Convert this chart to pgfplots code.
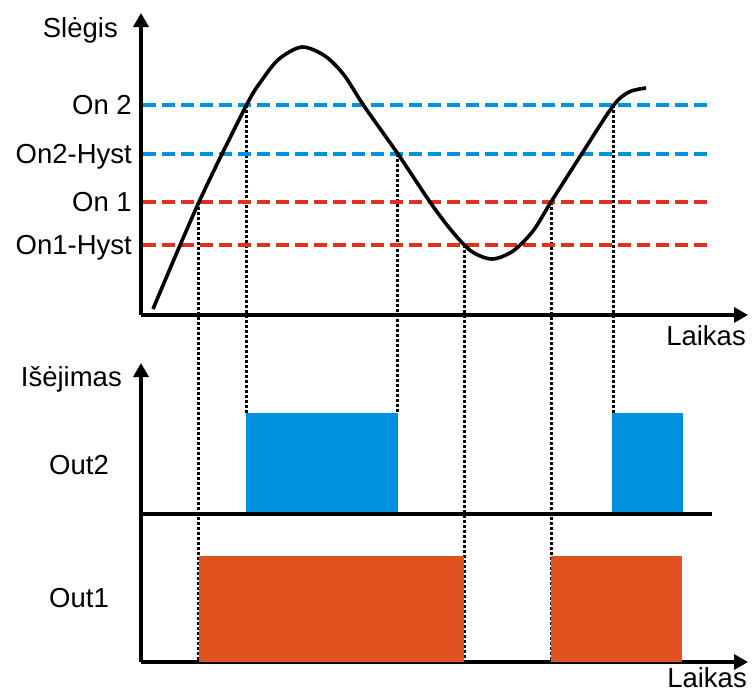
\documentclass[border=0pt]{standalone}
\usepackage{fontspec}
\setmainfont{Liberation Sans}
\usepackage{pgfplots}
\pgfplotsset{compat=1.18}
\usetikzlibrary{arrows.meta}

\definecolor{lineblue}{RGB}{0,146,222}
\definecolor{linered}{RGB}{226,48,32}
\definecolor{barblue}{RGB}{0,144,224}
\definecolor{barorange}{RGB}{224,82,32}

\pgfplotsset{
  diagram/.style={
    scale only axis,
    axis lines*=left,
    axis line style={line width=3.4pt, -{Triangle[length=14pt,width=15pt]}},
    xmin=0, xmax=607,
    ymin=0,
    xtick=\empty,
    major tick length=0pt,
    clip=false,
    yticklabel style={inner sep=0pt, anchor=base east, yshift=-0.36em},
  },
}
\tikzset{
  switch/.style={black, line width=3pt, dash pattern=on 3pt off 2pt},
  level/.style={line width=3.4pt, dash pattern=on 13pt off 6pt},
  lbl/.style={anchor=base east, inner sep=0pt},
}

\begin{document}
\fontsize{27.5}{32}\selectfont
\begin{tikzpicture}
\useasboundingbox (0,0) rectangle (753pt,-694pt);

% pressure over time
\begin{axis}[diagram,
    at={(141pt,-315pt)}, anchor=south west,
    width=607pt, height=302pt, ymax=302,
    ytick={70,113,161,210},
    yticklabels={On1-Hyst, On 1, On2-Hyst, On 2},
    yticklabel style={xshift=-9pt},
  ]
  % switching instants, carried down into the output panel
  \addplot[switch] coordinates {(58,113) (58,-347)};
  \addplot[switch] coordinates {(105,210) (105,-98)};
  \addplot[switch] coordinates {(256,161) (256,-98)};
  \addplot[switch] coordinates {(323,70) (323,-347)};
  \addplot[switch] coordinates {(410,113) (410,-347)};
  \addplot[switch] coordinates {(472,210) (472,-98)};

  % thresholds
  \addplot[lineblue, level] coordinates {(2,210) (569,210)};
  \addplot[lineblue, level] coordinates {(2,161) (569,161)};
  \addplot[linered,  level] coordinates {(2,113) (569,113)};
  \addplot[linered,  level] coordinates {(2,70) (569,70)};

  % pressure curve
  \addplot[black, line width=3.6pt, smooth] coordinates {
    (12,6) (58,113) (105,209) (121,235) (138,256) (161,268) (184,259)
    (203,240) (223,209) (257,161) (289,113) (310,85) (330,64)
    (351,56) (372,64) (392,84) (410,113) (440,160) (472,209)
    (488,223) (505,227)
  };

  \node[lbl] at (axis cs:-23,278) {Slėgis};
  \node[lbl] at (axis cs:605,-30) {Laikas};
\end{axis}

% outputs over time
\begin{axis}[diagram,
    at={(141pt,-662pt)}, anchor=south west,
    width=607pt, height=299pt, ymax=299,
    ytick={64,197},
    yticklabels={Out1, Out2},
    yticklabel style={xshift=-32pt},
  ]
  \addplot[barblue, fill=barblue, draw=none] coordinates {(105,148) (257,148) (257,249) (105,249)} -- cycle;
  \addplot[barblue, fill=barblue, draw=none] coordinates {(471,148) (542,148) (542,249) (471,249)} -- cycle;
  \addplot[barorange, fill=barorange, draw=none] coordinates {(58,0) (323,0) (323,106) (58,106)} -- cycle;
  \addplot[barorange, fill=barorange, draw=none] coordinates {(410,0) (541,0) (541,106) (410,106)} -- cycle;

  % Out2 baseline
  \addplot[black, line width=3.4pt] coordinates {(0,148) (571,148)};

  \node[lbl] at (axis cs:-19,276) {Išėjimas};
  \node[lbl] at (axis cs:606,-25) {Laikas};
\end{axis}
\end{tikzpicture}
\end{document}
